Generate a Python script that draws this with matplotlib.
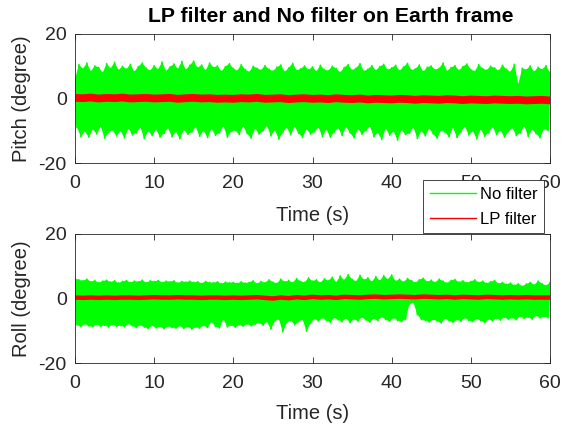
import numpy as np
import matplotlib
matplotlib.use("Agg")
import matplotlib.pyplot as plt
from matplotlib.lines import Line2D

plt.rcParams['font.family'] = ['Liberation Sans', 'DejaVu Sans']
plt.rcParams['axes.unicode_minus'] = False

# ---------------- data ----------------
time_ticks = [0, 10, 20, 30, 40, 50, 60]
y_ticks = [-20, 0, 20]

# No filter, Pitch: upper peaks at t = 0, 0.5, ..., 60
pitch_hi = [
    6.0, 10.5, 9.2, 11.0, 8.4, 10.1, 9.6, 8.0, 10.8, 9.3,
    11.2, 8.8, 10.0, 9.1, 10.6, 8.3, 9.9, 11.0, 9.4, 8.6,
    10.2, 9.0, 11.3, 8.5, 9.8, 10.7, 9.2, 11.5, 8.9, 10.3,
    11.6, 9.5, 10.4, 8.7, 11.0, 9.6, 10.1, 8.4, 9.9, 10.8,
    9.3, 8.6, 10.5, 9.0, 8.2, 10.0, 9.4, 8.8, 10.2, 9.1,
    8.5, 9.7, 10.4, 8.3, 9.5, 10.9, 8.7, 9.2, 10.1, 8.9,
    9.8, 8.4, 10.3, 9.0, 8.6, 10.0, 9.3, 8.1, 9.6, 10.5,
    8.8, 9.4, 10.8, 8.5, 9.1, 10.2, 8.7, 9.9, 10.6, 8.9,
    9.5, 10.3, 8.6, 9.8, 10.9, 8.8, 9.2, 10.4, 8.3, 9.7,
    10.1, 8.9, 9.4, 11.0, 8.5, 9.6, 10.2, 8.7, 9.9, 10.7,
    9.0, 8.4, 10.5, 9.3, 8.8, 10.0, 9.5, 8.6, 10.3, 9.1,
    8.2, 10.6, 4.5, 9.4, 8.9, 10.1, 8.3, 9.7, 9.0, 10.2,
    8.0]
# No filter, Pitch: lower peaks at t = 0.25, 0.75, ..., 59.75
pitch_lo = [
    -9.0, -11.8, -10.2, -12.0, -9.5, -11.0, -8.7, -12.3, -10.5, -9.8,
    -11.6, -10.0, -12.2, -9.2, -11.3, -10.6, -8.9, -12.4, -10.1, -11.5,
    -9.6, -12.0, -10.8, -9.1, -11.9, -10.3, -12.5, -9.7, -11.1, -10.4,
    -8.8, -11.7, -10.0, -12.1, -9.4, -11.4, -10.7, -8.5, -12.0, -10.2,
    -9.9, -11.2, -8.6, -10.9, -12.3, -9.3, -11.0, -10.1, -8.4, -11.6,
    -9.8, -12.6, -10.5, -9.0, -11.3, -8.7, -10.8, -12.1, -9.5, -11.0,
    -10.3, -8.9, -11.8, -9.6, -12.0, -10.4, -9.1, -11.5, -8.8, -10.7,
    -12.2, -9.4, -11.1, -10.0, -8.6, -11.9, -10.6, -12.7, -9.2, -11.4,
    -10.2, -12.9, -9.7, -11.2, -10.8, -8.9, -12.4, -10.0, -11.6, -9.3,
    -11.0, -12.3, -9.8, -10.5, -11.9, -9.0, -12.1, -10.4, -8.7, -11.3,
    -10.1, -12.5, -9.5, -11.7, -10.6, -8.8, -11.2, -9.9, -12.0, -10.3,
    -9.1, -11.5, -10.7, -8.5, -11.8, -9.6, -10.9, -12.2, -9.4, -10.0]
# LP filter, Pitch, t = 0, 1, ..., 60
pitch_lp = [
    0.2, 0.1, 0.3, 0.0, 0.2, 0.1, 0.3, 0.0, 0.1, 0.2,
    0.0, 0.1, 0.2, -0.1, 0.1, 0.2, 0.0, 0.1, -0.1, 0.0,
    -0.1, 0.1, 0.0, 0.2, -0.1, 0.0, 0.1, -0.2, 0.0, 0.1,
    -0.1, 0.0, -0.2, 0.1, -0.1, -0.2, 0.0, -0.3, -0.1, -0.2,
    -0.3, -0.1, -0.2, -0.4, -0.2, -0.3, -0.4, -0.2, -0.3, -0.5,
    -0.3, -0.4, -0.5, -0.3, -0.4, -0.5, -0.4, -0.6, -0.5, -0.4, -0.6]

# No filter, Roll: upper peaks at t = 0, 0.5, ..., 60
roll_hi = [
    6.2, 5.8, 5.5, 6.0, 5.2, 5.6, 4.9, 5.4, 5.7, 5.1,
    5.5, 4.8, 5.3, 5.6, 5.0, 5.4, 5.2, 5.7, 4.9, 5.5,
    5.3, 5.6, 5.0, 5.4, 5.2, 5.5, 4.8, 5.3, 5.1, 5.4,
    5.0, 5.2, 4.7, 5.3, 5.0, 4.9, 5.2, 4.6, 5.1, 4.9,
    5.0, 4.7, 5.2, 4.8, 5.0, 5.5, 4.6, 5.3, 4.9, 5.8,
    5.1, 4.7, 6.0, 5.2, 5.6, 4.9, 6.2, 5.3, 5.0, 6.4,
    5.4, 5.8, 4.9, 6.1, 5.5, 6.6, 5.0, 7.0, 5.7, 7.4,
    6.0, 5.3, 7.2, 5.8, 6.4, 5.2, 6.8, 5.5, 7.1, 5.9,
    7.3, 5.4, 6.0, 5.1, 6.2, 5.6, 4.9, 5.8, 6.3, 5.2,
    5.7, 5.0, 6.0, 5.4, 4.8, 5.6, 5.9, 5.1, 5.5, 4.9,
    5.3, 5.8, 5.0, 5.4, 4.7, 5.2, 5.6, 4.6, 5.0, 4.4,
    4.8, 4.1, 4.6, 3.8, 4.5, 5.0, 4.2, 5.4, 4.6, 4.0,
    4.9]
# No filter, Roll: lower peaks at t = 0.25, 0.75, ..., 59.75
roll_lo = [
    -8.2, -8.7, -7.9, -8.5, -8.8, -8.0, -8.6, -8.3, -8.9, -8.1,
    -8.6, -8.4, -8.8, -7.8, -8.5, -9.0, -8.2, -8.9, -9.3, -8.4,
    -9.1, -8.7, -9.4, -8.6, -9.0, -9.2, -8.5, -9.3, -8.8, -9.5,
    -8.9, -9.2, -8.4, -9.0, -7.2, -8.7, -9.1, -6.4, -8.8, -8.3,
    -8.9, -8.2, -8.6, -7.9, -8.5, -8.0, -7.6, -8.3, -7.2, -9.5,
    -7.0, -6.4, -10.3, -7.5, -6.8, -8.1, -7.2, -6.5, -10.1, -7.6,
    -6.3, -7.0, -6.0, -6.8, -7.4, -5.9, -6.6, -7.2, -6.1, -7.5,
    -6.4, -7.0, -5.8, -6.7, -7.3, -6.2, -6.9, -5.7, -6.5, -7.1,
    -6.0, -6.8, -7.2, -6.4, -1.8, -1.2, -5.0, -6.5, -6.8, -7.3,
    -6.5, -7.0, -7.6, -6.2, -6.9, -7.4, -6.6, -7.1, -6.0, -6.8,
    -7.2, -6.3, -6.9, -7.5, -6.4, -7.0, -6.1, -6.7, -5.8, -6.5,
    -6.0, -6.6, -5.5, -6.2, -5.8, -6.4, -5.3, -6.0, -5.6, -5.9]
# LP filter, Roll, t = 0, 1, ..., 60
roll_lp = [
    0.3, 0.2, 0.3, 0.2, 0.3, 0.2, 0.3, 0.3, 0.2, 0.3,
    0.4, 0.3, 0.3, 0.4, 0.3, 0.3, 0.2, 0.3, 0.3, 0.2,
    0.3, 0.2, 0.3, 0.4, 0.2, 0.0, 0.3, 0.1, 0.4, 0.2,
    0.5, 0.3, 0.4, 0.2, 0.5, 0.4, 0.3, 0.5, 0.6, 0.4,
    0.5, 0.6, 0.5, 0.4, 0.6, 0.5, 0.4, 0.5, 0.3, 0.5,
    0.4, 0.3, 0.5, 0.4, 0.3, 0.4, 0.3, 0.4, 0.3, 0.3, 0.3]

t_hi = np.arange(len(pitch_hi)) * 0.5
t_lo = t_hi[:-1] + 0.25
t_lp = np.arange(len(pitch_lp)) * 1.0


def interleave(hi, lo):
    t = np.empty(len(hi) + len(lo))
    y = np.empty(len(hi) + len(lo))
    t[0::2] = t_hi
    t[1::2] = t_lo
    y[0::2] = hi
    y[1::2] = lo
    return t, y


GREEN = '#00ff00'
RED = '#ff0000'
TXT = '#262626'

fig = plt.figure(figsize=(5.62, 4.29), dpi=100)
ax1 = fig.add_axes([75 / 562, 1 - 163 / 429, 475 / 562, 129 / 429])
ax2 = fig.add_axes([75 / 562, 1 - 363 / 429, 475 / 562, 129 / 429])

for ax, hi, lo, lp, lpw, ylab in [
        (ax1, pitch_hi, pitch_lo, pitch_lp, 5.6, 'Pitch (degree)'),
        (ax2, roll_hi, roll_lo, roll_lp, 3.2, 'Roll (degree)')]:
    # solid band between the upper and lower peaks
    ax.fill(np.concatenate([t_hi, t_lo[::-1]]),
            np.concatenate([hi, lo[::-1]]),
            color=GREEN, lw=0)
    tz, yz = interleave(hi, lo)
    ax.plot(tz, yz, color=GREEN, lw=1.2)
    ax.plot(t_lp, lp, color=RED, lw=lpw)
    ax.set_xlim(0, 60)
    ax.set_ylim(-20, 20)
    ax.set_xticks(time_ticks)
    ax.set_yticks(y_ticks)
    ax.tick_params(direction='in', top=True, right=True, length=4,
                   width=0.6, colors=TXT, labelsize=14)
    ax.tick_params(axis='x', pad=9)
    ax.tick_params(axis='y', pad=6)
    for s in ax.spines.values():
        s.set_color(TXT)
        s.set_linewidth(0.6)
    ax.set_xlabel('Time (s)', fontsize=14.5, color=TXT, va='center')
    ax.set_ylabel(ylab, fontsize=14.5, color=TXT, va='center')
    ax.yaxis.set_label_coords(-0.112, 0.5)

ax1.xaxis.set_label_coords(0.5, -0.405)
ax2.xaxis.set_label_coords(0.5, -0.39)

fig.text(331 / 562, 1 - 16 / 429, 'LP filter and No filter on Earth frame',
         ha='center', va='center', fontsize=15.3, fontweight='bold',
         color='black')

handles = [Line2D([], [], color=GREEN, lw=1.0),
           Line2D([], [], color=RED, lw=1.0)]
leg = fig.legend(handles, ['No filter', 'LP filter'],
                 loc='upper left', bbox_to_anchor=(423 / 562, 1 - 180 / 429),
                 fontsize=12, frameon=True, fancybox=False, framealpha=1,
                 edgecolor=TXT, handlelength=2.8, handletextpad=0.2,
                 borderpad=0.4, labelspacing=0.6, borderaxespad=0)
leg.get_frame().set_linewidth(0.6)
for txt in leg.get_texts():
    txt.set_color('black')

fig.savefig('out.png', dpi=100)
